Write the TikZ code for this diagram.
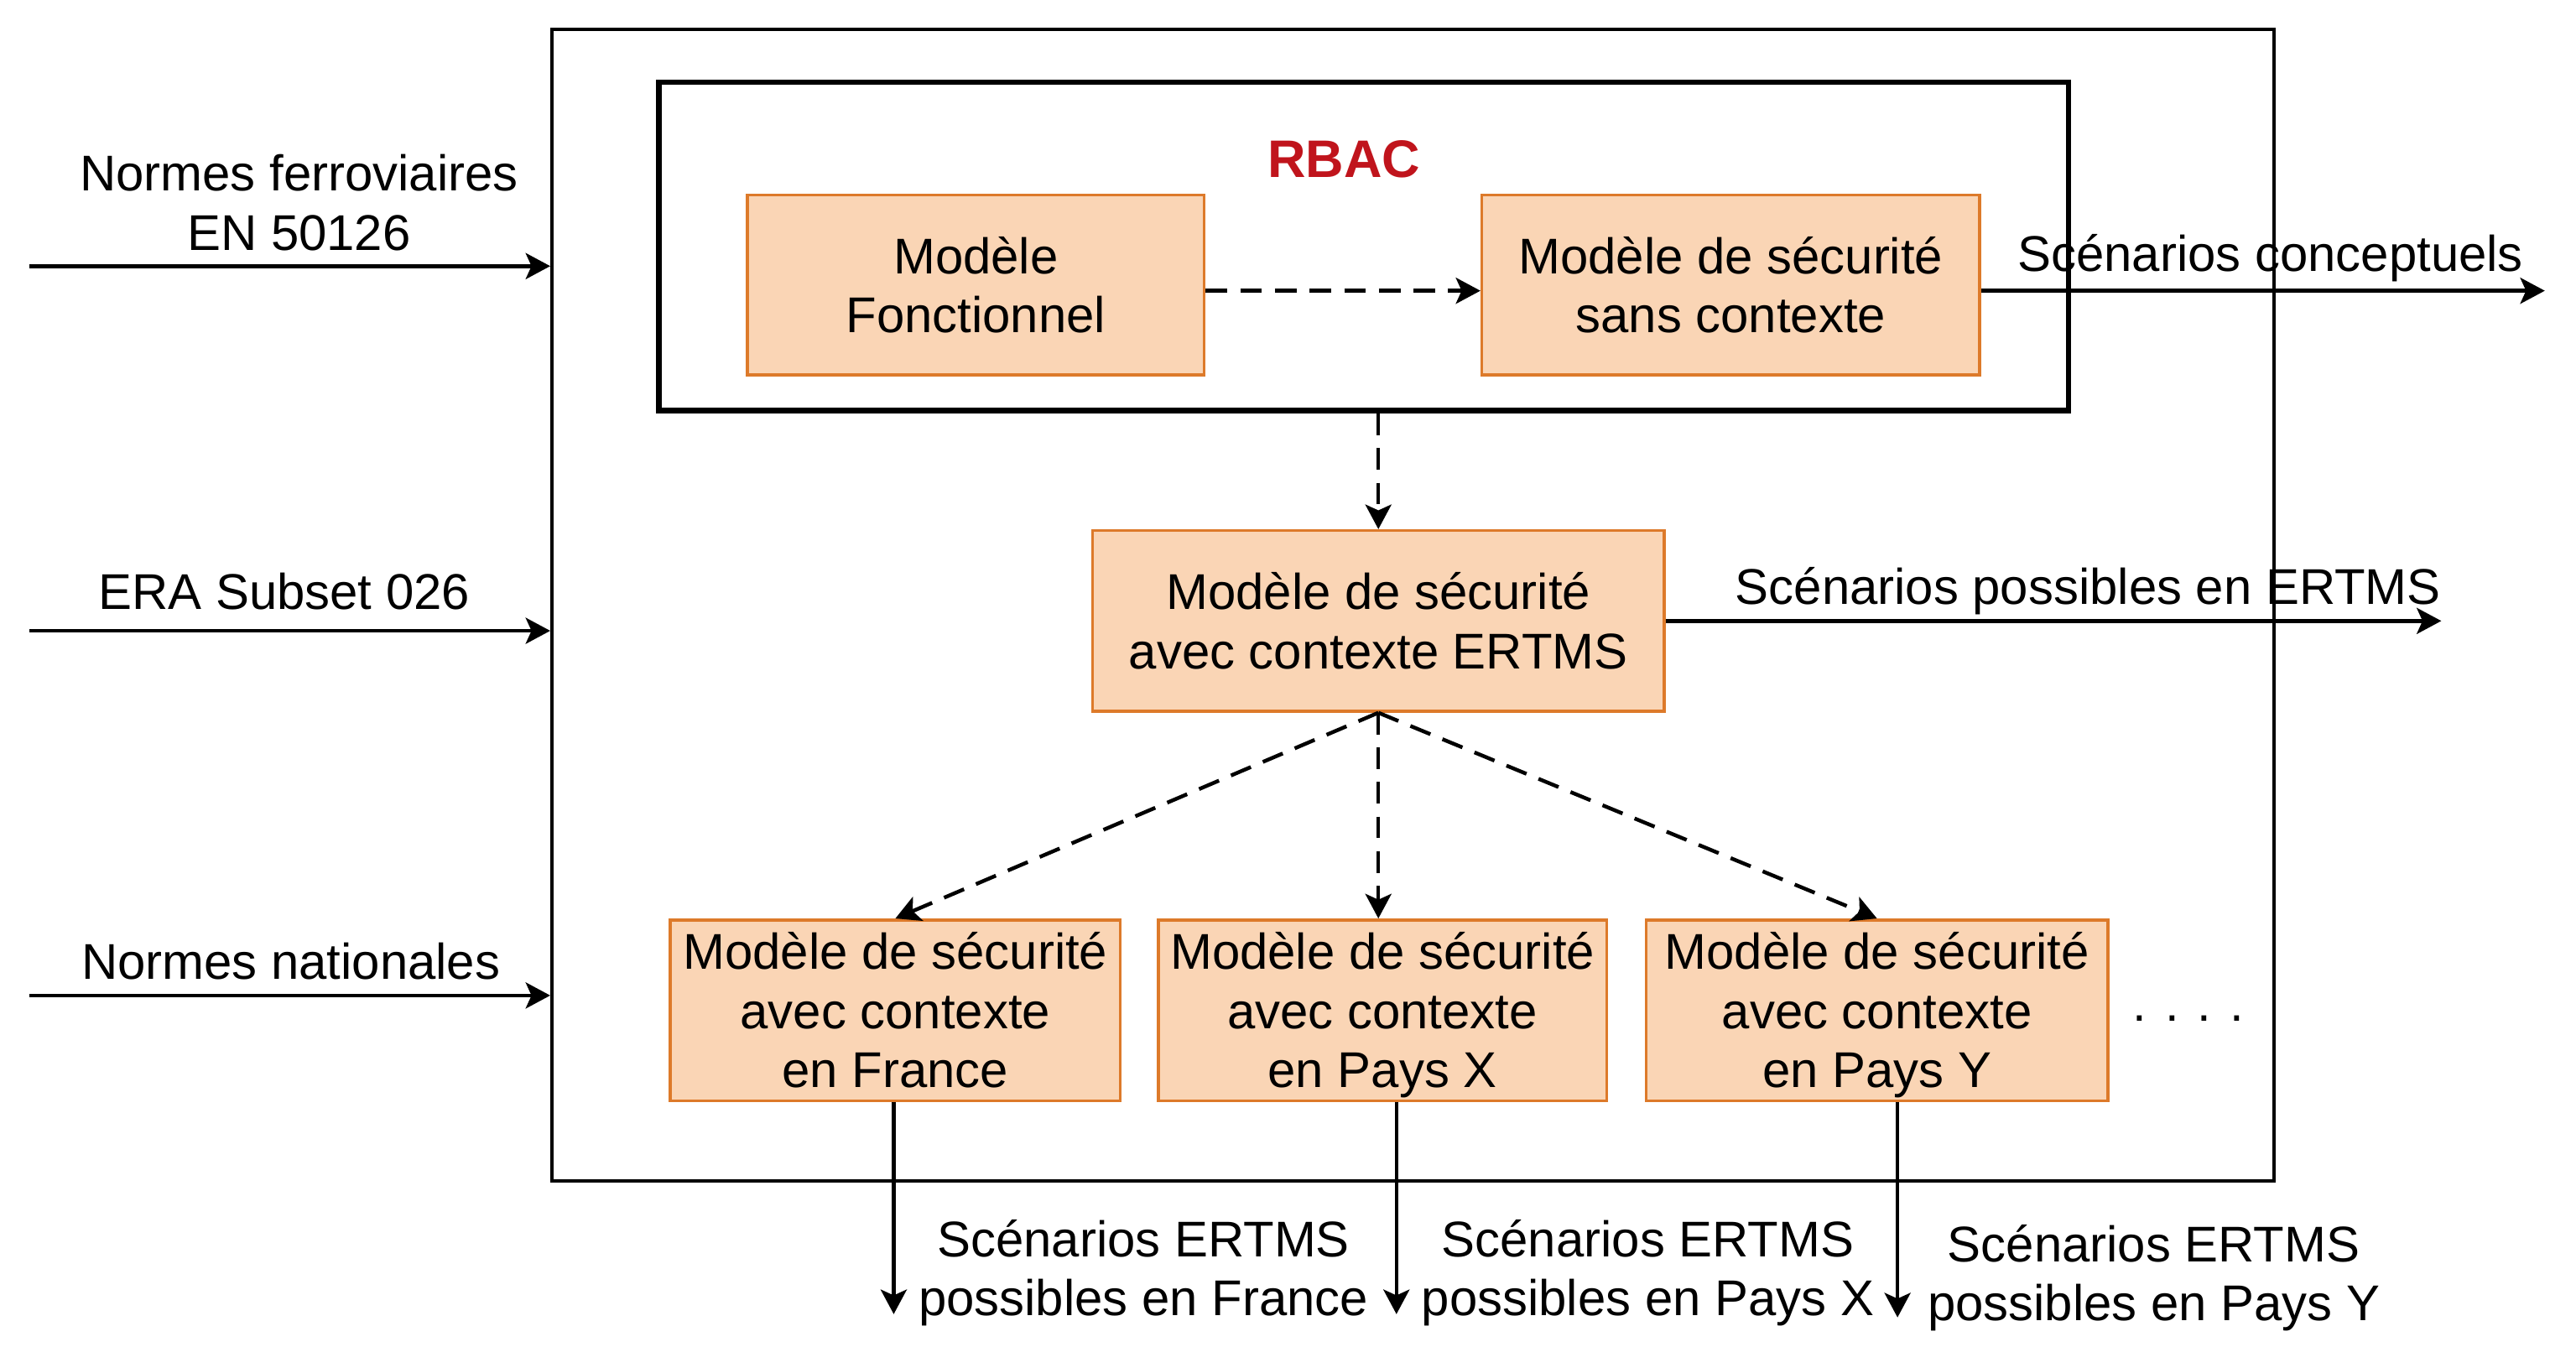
\documentclass[tikz,border=0pt]{standalone}
\usepackage{fontspec}
\setmainfont{Liberation Sans}
\usetikzlibrary{arrows.meta}
\definecolor{peach}{HTML}{FAD5B5}
\definecolor{rust}{HTML}{DD7A2A}
\definecolor{rbacred}{HTML}{C0141C}

\begin{document}
\begin{tikzpicture}[x=0.2mm,y=-0.2mm,
            every node/.style={font=\fontsize{17.4}{20.5}\selectfont,align=center,inner sep=0pt},
            model/.style={draw=rust,fill=peach,line width=1pt,minimum height=2.19cm},
            arr/.style={line width=1.3pt,-{Stealth[length=8.5pt,width=9pt,inset=2pt]}},
            darr/.style={arr,dash pattern=on 7.5pt off 4.5pt}]
                \useasboundingbox (0,0) rectangle (1568,820);
                % frames
                \node[draw,line width=1.2pt,minimum width=20.96cm,minimum height=14.02cm](cadre) at (860,368.5) {};
                \node[draw,line width=1.9pt,minimum width=17.16cm,minimum height=4cm](rbac) at (830,150) {};
                \node[text=rbacred,font=\fontsize{18.3}{20}\selectfont\bfseries](titre) at (818,97) {RBAC};
                % models
                \node[model,minimum width=5.56cm](fonc) at (594,173.5) {Modèle\\Fonctionnel};
                \node[model,minimum width=6.06cm](sans) at (1053.5,173.5) {Modèle de sécurité\\sans contexte};
                \node[model,minimum width=6.96cm,minimum height=2.2cm](ertms) at (839,378) {Modèle de sécurité\\avec contexte ERTMS};
                \node[model,minimum width=5.48cm,minimum height=2.2cm](france) at (545,615) {Modèle de sécurité\\avec contexte\\en France};
                \node[model,minimum width=5.46cm,minimum height=2.2cm](paysx) at (841.5,615) {Modèle de sécurité\\avec contexte\\en Pa\smash{y}s X};
                \node[model,minimum width=5.62cm,minimum height=2.2cm](paysy) at (1142.5,615) {Modèle de sécurité\\avec contexte\\en Pa\smash{y}s Y};
                \node(dots) at (1332,620) {. . . .};
                % dashed links
                \draw[darr] (fonc.east |- 0,177) -- (sans.west |- 0,177);
                \draw[darr] (rbac.south -| ertms.north) -- (ertms.north);
                \draw[darr] (ertms.south) -- (france.north);
                \draw[darr] (ertms.south) -- (paysx.north -| ertms.south);
                \draw[darr] (ertms.south) -- (paysy.north);
                % inputs
                \coordinate(in1) at (18,162);
                \coordinate(in2) at (18,384);
                \coordinate(in3) at (18,606);
                \draw[arr] (in1) -- (in1 -| cadre.west);
                \draw[arr] (in2) -- (in2 -| cadre.west);
                \draw[arr] (in3) -- (in3 -| cadre.west);
                \node(norm) at (182,123.5) {Normes ferroviaires\\EN 50126};
                \node(era) at (173,360) {ERA Subset 026};
                \node(nat) at (177,585) {Normes nationales};
                % outputs
                \coordinate(out1) at (1549,177);
                \coordinate(out2) at (1486,378);
                \draw[arr] (sans.east |- out1) -- (out1);
                \draw[arr] (ertms.east) -- (out2);
                \node(concep) at (1382,157) {Scénarios conceptuels};
                \node(poss) at (1271,360) {Scénarios possibles en ERTMS};
                \coordinate(outf) at (544,800);
                \coordinate(outx) at (850,800);
                \coordinate(outy) at (1155,802);
                \draw[arr] (outf |- france.south) -- (outf);
                \draw[arr] (outx |- paysx.south) -- (outx);
                \draw[arr] (outy |- paysy.south) -- (outy);
                \node(scf) at (696,775) {Scénarios ERTMS\\possibles en France};
                \node(scx) at (1003,775) {Scénarios ERTMS\\possibles en Pays X};
                \node(scy) at (1311,778) {Scénarios ERTMS\\possibles en Pays Y};
        \end{tikzpicture}
\end{document}
